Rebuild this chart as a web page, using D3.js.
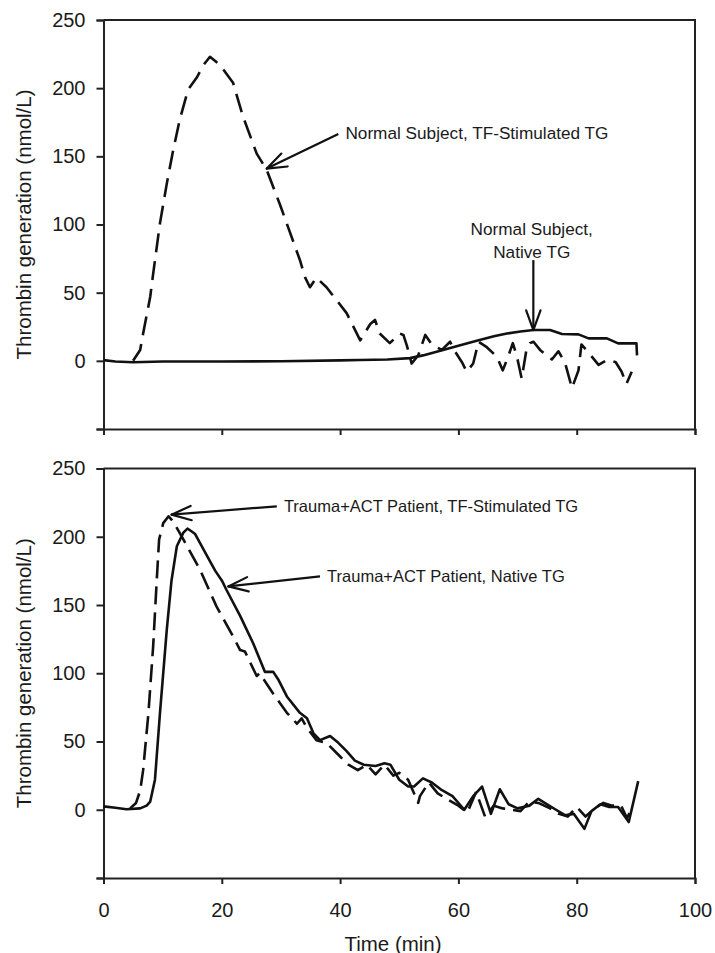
<!DOCTYPE html>
<html>
<head>
<meta charset="utf-8">
<script src="https://cdn.jsdelivr.net/npm/d3@7"></script>
<style>
  html, body { margin: 0; padding: 0; background: #fff; }
  svg { display: block; }
  text { font-family: "Liberation Sans", Arial, Helvetica, sans-serif; fill: #1a1a1a; }
</style>
</head>
<body>
<svg id="chart" width="715" height="953"></svg>
<script>
// ---------- DATA ----------
const xTicks = [0, 20, 40, 60, 80, 100];
const yTicks = [-50, 0, 50, 100, 150, 200, 250];
const yTickLabels = ["", "0", "50", "100", "150", "200", "250"];
const xLabel = "Time (min)";
const yLabel = "Thrombin generation (nmol/L)";

// Top panel: Normal subject
const normalTFTime = [5.0, 6.2, 6.7, 7.9, 8.4, 9.55, 10.7, 11.8, 12.9, 14.3, 15.8, 16.9, 18.0, 19.7, 21.9, 23.6, 25.9, 27.6, 29.8, 33.2, 34.1, 34.9, 36.0, 37.7, 41.1, 43.4, 45.1, 45.9, 46.7, 48.4, 50.1, 50.7, 51.3, 52.1, 53.2, 54.4, 55.5, 57.2, 58.6, 59.4, 60.6, 61.4, 62.5, 63.4, 64.8, 66.5, 67.5, 68.4, 69.2, 69.9, 70.7, 71.5, 72.1, 72.7, 73.8, 75.8, 76.9, 78.0, 79.2, 80.3, 80.8, 82.2, 83.7, 84.5, 85.3, 86.6, 87.6, 88.4, 89.3];
const normalTFValue = [0, 8, 20, 47, 64, 101, 130, 155, 177, 199, 208, 217, 223, 217, 204, 179, 152, 140, 115, 74, 61, 54, 61, 54, 35, 15, 27, 30, 20, 13, 20, 19, 11, -2, 4, 19, 12, 8, 14, 7, -1, -8, -2, 14, 10, 3, -7, 3, 13, 3, -13, 8, 13, 14, 8, 1, 7, -1, -20, -7, 12, 5, -3, -1, 1, -1, -8, -17, -8];

const normalNativeTime = [0, 2, 5, 10, 20, 30, 40, 43.4, 48, 51.8, 54, 57.4, 60, 63.1, 66, 68.2, 70.5, 72.7, 75.5, 77.5, 80.3, 82, 85.1, 87, 90.1, 90.2];
const normalNativeValue = [0.5, -0.5, -1, -0.5, -0.5, -0.3, 0.3, 0.6, 1, 2, 4, 8, 11, 14.7, 18, 20, 21.5, 22.6, 22.6, 19.7, 19.4, 16.5, 16.5, 12.8, 12.8, 4];

// Bottom panel: Trauma+ACT patient
const traumaTFTime = [4.5, 5.5, 6.2, 6.7, 7.6, 8.4, 9.0, 9.4, 10.1, 11.0, 11.8, 13.5, 16.3, 19.1, 21.9, 23.1, 23.9, 25.9, 26.4, 27.0, 28.7, 31.0, 32.1, 32.7, 33.5, 34.4, 36.0, 37.7, 40.0, 41.4, 43.0, 44.5, 46.0, 47.5, 49.0, 50.0, 51.5, 53.2, 53.5, 55.0, 56.5, 58.0, 60.0, 61.5, 63.0, 64.5, 66.0, 67.5, 69.0, 70.5, 72.0, 73.5, 75.5, 77.0, 78.5, 80.0, 81.5, 83.0, 84.5, 86.0, 87.5, 88.5, 89.0];
const traumaTFValue = [1, 5, 14, 29, 71, 120, 168, 198, 210, 215, 211, 198, 176, 149, 127, 117, 116, 98, 100, 96, 85, 71, 66, 63, 67, 60, 51, 49, 39, 33, 29, 33, 26, 33, 25, 27, 22, 5, 10, 20, 12, 8, 3, -2, 13, -5, 3, 1, 0, -1, 6, 5, 1, -3, -5, 2, -5, 1, 5, 3, 3, -6, -2];

const traumaNativeTime = [0, 2, 3.9, 6.2, 7.3, 7.9, 8.7, 9.55, 10.7, 11.5, 12.4, 13.5, 14.2, 15.5, 17.5, 18.9, 20.0, 20.8, 23.1, 25.3, 27.3, 28.7, 29.6, 31.0, 33.2, 34.4, 35.5, 36.6, 38.3, 39.7, 41.1, 42.5, 44.0, 46.0, 47.5, 48.5, 50.0, 51.5, 52.5, 54.0, 55.5, 57.0, 59.0, 61.0, 62.5, 64.0, 65.5, 67.0, 68.5, 70.0, 72.0, 73.5, 75.0, 76.5, 78.0, 79.5, 81.3, 82.5, 84.0, 85.5, 87.0, 88.8, 90.4];
const traumaNativeValue = [2.5, 1.5, 0.4, 1, 3, 6, 22, 71, 132, 168, 193, 203, 206, 202, 186, 175, 168, 161, 142, 122, 101, 101, 95, 83, 71, 67, 56, 51, 54, 49, 43, 36, 33, 32, 34, 33, 22, 17, 17, 23, 20, 15, 10, 0, 10, 17, -3, 15, 4, 1, 3, 8, 4, 0, -4, -3, -14, -1, 4, 2, 2, -9, 21];

// Annotations (data coordinates): tip, tail, text anchor
const topNotes = [
  { lines: ["Normal Subject, TF-Stimulated TG"], tip: [27.6, 141], tail: [39.7, 166.4], text: [40.9, 166.9], anchor: "start" },
  { lines: ["Normal Subject,", "Native TG"], tip: [72.67, 22.6], tail: [72.67, 73.9], text: [72.4, 96.7], anchor: "middle" }
];
const bottomNotes = [
  { lines: ["Trauma+ACT Patient, TF-Stimulated TG"], tip: [11.5, 216.2], tail: [29.3, 222.3], text: [30.5, 222.3], anchor: "start" },
  { lines: ["Trauma+ACT Patient, Native TG"], tip: [21.1, 163.6], tail: [36.6, 171.0], text: [37.8, 171.5], anchor: "start" }
];

// ---------- LAYOUT ----------
const svg = d3.select("#chart");
const left = 103.5, right = 695;
const panels = [
  { top: 20, bottom: 429, showX: false,
    series: [
      { t: normalTFTime, v: normalTFValue, dash: "19,9" },
      { t: normalNativeTime, v: normalNativeValue, dash: null }
    ], notes: topNotes, noteSize: 17.2 },
  { top: 468.5, bottom: 878, showX: true,
    series: [
      { t: traumaTFTime, v: traumaTFValue, dash: "18,8" },
      { t: traumaNativeTime, v: traumaNativeValue, dash: null }
    ], notes: bottomNotes, noteSize: 16.5 }
];

const x = d3.scaleLinear().domain([0, 100]).range([left, right]);

panels.forEach(p => {
  const y = d3.scaleLinear().domain([-50, 250]).range([p.bottom, p.top]);
  const g = svg.append("g");

  // box (top & right)
  g.append("path")
    .attr("d", `M${left},${p.top}H${right}V${p.bottom}`)
    .attr("fill", "none").attr("stroke", "#222").attr("stroke-width", 2);

  // y axis
  const ya = g.append("g").attr("transform", `translate(${left},0)`)
    .call(d3.axisLeft(y).tickValues(yTicks).tickSize(7).tickPadding(11)
      .tickFormat((d, i) => yTickLabels[i]));
  // x axis
  const xa = g.append("g").attr("transform", `translate(0,${p.bottom})`)
    .call(d3.axisBottom(x).tickValues(xTicks).tickSize(6).tickPadding(19)
      .tickFormat(p.showX ? d3.format("d") : () => ""));
  [ya, xa].forEach(a => {
    a.select(".domain").attr("stroke", "#222").attr("stroke-width", 2);
    a.selectAll(".tick line").attr("stroke", "#222").attr("stroke-width", 2);
    a.selectAll(".tick text").attr("font-size", 20).attr("fill", "#1a1a1a")
      .style("font-family", "'Liberation Sans', Arial, sans-serif");
  });

  // y label
  g.append("text")
    .attr("transform", `translate(23,${(p.top + p.bottom) / 2}) rotate(-90)`)
    .attr("text-anchor", "middle").attr("dominant-baseline", "central")
    .attr("font-size", 20.5).text(yLabel);

  // series
  const line = d3.line().x(d => x(d[0])).y(d => y(d[1]));
  p.series.forEach(s => {
    const pts = s.t.map((t, i) => [t, s.v[i]]);
    g.append("path").datum(pts).attr("d", line)
      .attr("fill", "none").attr("stroke", "#111").attr("stroke-width", 2.6)
      .attr("stroke-linejoin", "round").attr("stroke-linecap", "butt")
      .attr("stroke-dasharray", s.dash);
  });

  // annotations
  p.notes.forEach(n => {
    const tx = x(n.tip[0]), ty = y(n.tip[1]);
    const lx = x(n.tail[0]), ly = y(n.tail[1]);
    g.append("line").attr("x1", lx).attr("y1", ly).attr("x2", tx).attr("y2", ty)
      .attr("stroke", "#111").attr("stroke-width", 2.2);
    const ang = Math.atan2(ly - ty, lx - tx);
    const L = 21, spread = 20 * Math.PI / 180;
    [ang - spread, ang + spread].forEach(a => {
      g.append("line").attr("x1", tx).attr("y1", ty)
        .attr("x2", tx + L * Math.cos(a)).attr("y2", ty + L * Math.sin(a))
        .attr("stroke", "#111").attr("stroke-width", 2.2).attr("stroke-linecap", "round");
    });
    const t = g.append("text").attr("text-anchor", n.anchor)
      .attr("font-size", p.noteSize);
    n.lines.forEach((s, i) => {
      t.append("tspan").attr("x", x(n.text[0]))
        .attr("y", y(n.text[1]) + i * 23 + p.noteSize * 0.36).text(s);
    });
  });

  if (p.showX) {
    g.append("text").attr("x", 393).attr("y", 943).attr("text-anchor", "middle")
      .attr("dominant-baseline", "central").attr("font-size", 20.5).text(xLabel);
  }
});
</script>
</body>
</html>
